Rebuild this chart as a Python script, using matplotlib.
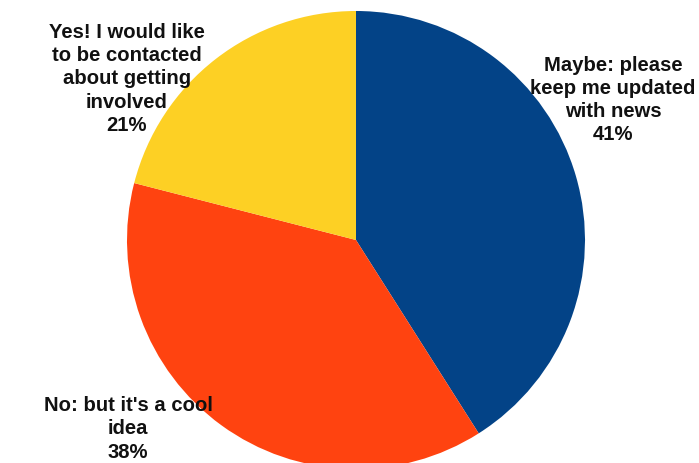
import matplotlib
matplotlib.use("Agg")
import matplotlib.pyplot as plt

# data
labels = ["Maybe: please\nkeep me updated\nwith news",
          "No: but it's a cool\nidea",
          "Yes! I would like\nto be contacted\nabout getting\ninvolved"]
shares = [41, 38, 21]
colors = ["#034387", "#FF4310", "#FDD024"]
# label centres in figure pixels (from top-left)
label_pos = [(613, 100), (128, 429), (127, 79)]

W, H = 699, 463
plt.rcParams["font.family"] = ["Liberation Sans", "DejaVu Sans"]

fig = plt.figure(figsize=(W / 100, H / 100), dpi=100)
ax = fig.add_axes([0, 0, 1, 1])

cx, cy, r = 356, 240, 229
ax.pie(shares, colors=colors, startangle=90, counterclock=False,
       radius=1, wedgeprops=dict(linewidth=0))
ax.set_xlim(-cx / r, (W - cx) / r)
ax.set_ylim(-(H - cy) / r, cy / r)
ax.set_aspect("equal")
ax.axis("off")

for lab, val, (px, py) in zip(labels, shares, label_pos):
    fig.text(px / W, 1 - py / H, f"{lab}\n{val}%", ha="center", va="center",
             fontsize=14.6, fontweight="bold", color="#111111", linespacing=1.28)

fig.savefig("out.png", dpi=100, facecolor="white")
